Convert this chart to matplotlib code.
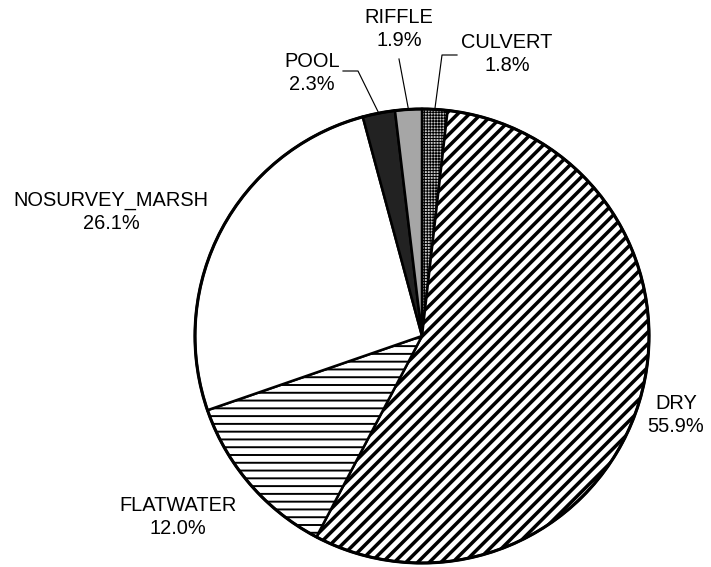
import matplotlib
matplotlib.use('Agg')
import matplotlib.pyplot as plt
import numpy as np

plt.rcParams['font.family'] = ['Liberation Sans', 'DejaVu Sans']
plt.rcParams['hatch.linewidth'] = 1.0

# data (clockwise from the top)
categories = ['CULVERT', 'DRY', 'FLATWATER', 'NOSURVEY_MARSH', 'POOL', 'RIFFLE']
percents = [1.8, 55.9, 12.0, 26.1, 2.3, 1.9]

# styles
face_colors = ['#c8c8c8', 'white', 'white', 'white', '#222222', '#a6a6a6']
hatches = ['++++++++', '////', '---', '', '', '']
hatch_widths = [0.5, 1.8, 1.0, 1.0, 1.0, 1.0]

W, H, DPI = 711, 567, 140
CX, CY, R = 422, 336, 227  # pie centre and radius in pixels


def px(x, y):
    # pixel position -> data units of the pie
    return (x - CX) / R, (CY - y) / R


fig = plt.figure(figsize=(W / DPI, H / DPI), dpi=DPI)
ax = fig.add_axes([0, 0, 1, 1])

wedges, _ = ax.pie(percents, startangle=90, counterclock=False, radius=1,
                   colors=face_colors,
                   wedgeprops=dict(edgecolor='black', linewidth=1.3))
for w, h, hw in zip(wedges, hatches, hatch_widths):
    if h:
        w.set_hatch(h)
        if hasattr(w, 'set_hatch_linewidth'):
            w.set_hatch_linewidth(hw)
        else:
            w._hatch_linewidth = hw

# outer ring a bit thicker
circ = plt.Circle((0, 0), 1, fill=False, edgecolor='black', linewidth=1.6, zorder=5)
ax.add_patch(circ)

ax.set_xlim(-CX / R, (W - CX) / R)
ax.set_ylim(-(H - CY) / R, CY / R)
ax.set_aspect('equal', adjustable='box')
ax.axis('off')

# label positions (pixel centres of the text blocks)
label_pos = {
    'CULVERT': (507, 54),
    'DRY': (676, 415),
    'FLATWATER': (178, 517),
    'NOSURVEY_MARSH': (111, 212),
    'POOL': (312, 73),
    'RIFFLE': (399, 29),
}
# leader line start points / elbows (pixels)
leaders = {
    'POOL': [(343, 71), (358, 71)],
    'RIFFLE': [(399, 59)],
    'CULVERT': [(457, 55), (442, 55)],
}

for w, name, p in zip(wedges, categories, percents):
    x, y = px(*label_pos[name])
    ax.text(x, y, '%s\n%.1f%%' % (name, p), ha='center', va='center',
            multialignment='center', fontsize=10.3, linespacing=1.25)
    if name in leaders:
        mid = np.deg2rad((w.theta1 + w.theta2) / 2)
        pts = [px(*q) for q in leaders[name]] + [(np.cos(mid), np.sin(mid))]
        xs, ys = zip(*pts)
        ax.plot(xs, ys, color='black', linewidth=0.6, zorder=6)

fig.savefig('out.png', dpi=DPI)
